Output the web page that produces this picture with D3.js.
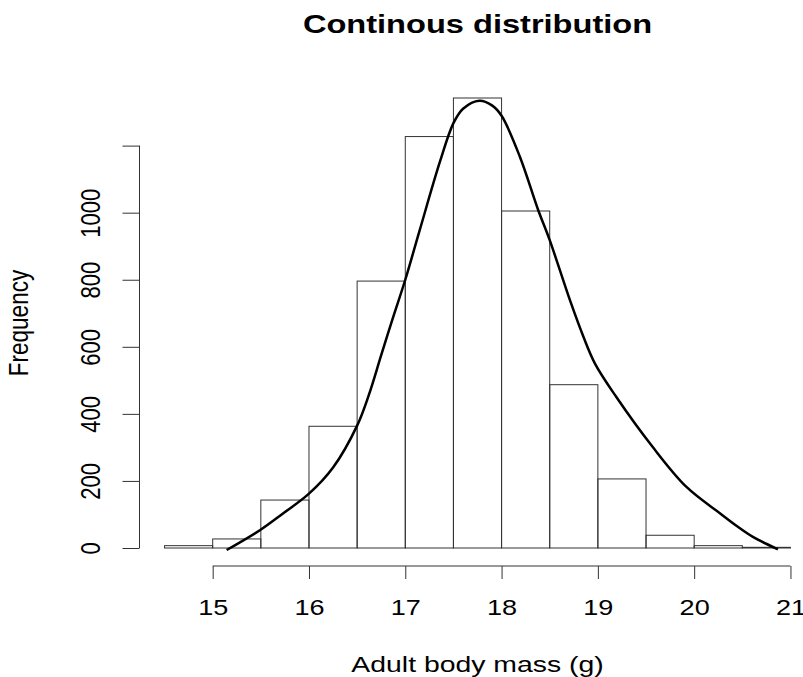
<!DOCTYPE html>
<html>
<head>
<meta charset="utf-8">
<script src="https://cdn.jsdelivr.net/npm/d3@7"></script>
<style>
  html, body { margin: 0; padding: 0; background: #fff; }
  svg { display: block; }
  text { font-family: "Liberation Sans", Arial, Helvetica, sans-serif; fill: #000; }
</style>
</head>
<body>
<svg id="chart" width="803" height="677"></svg>
<script>
// Histogram bins (g) and their counts
const breaks = [14.5, 15, 15.5, 16, 16.5, 17, 17.5, 18, 18.5, 19, 19.5, 20, 20.5, 21];
const counts = [7, 27, 143, 363, 796, 1227, 1342, 1005, 487, 206, 38, 7, 2];

// Smoothed density curve, scaled to frequency
const curveX = [15.145, 15.49, 15.73, 16.0, 16.25, 16.5, 16.62, 16.75, 16.87, 17.0, 17.15, 17.36, 17.5, 17.6, 17.77, 17.9, 18.0, 18.19, 18.38, 18.5, 18.71, 18.85, 18.97, 19.19, 19.57, 19.92, 20.27, 20.45, 20.61, 20.87];
const curveY = [-6, 53, 103, 162, 240, 365, 455, 575, 685, 800, 948, 1152, 1267, 1310, 1334, 1320, 1289, 1167, 1008, 918, 739, 630, 550, 451, 301, 182, 103, 64, 33, -4];

// Axis ticks (the top y tick carries no label)
const xTicks = [15, 16, 17, 18, 19, 20, 21];
const yTicks = [0, 200, 400, 600, 800, 1000, 1200];
const yTickLabels = ["0", "200", "400", "600", "800", "1000", ""];

const titleText = "Continous distribution";
const xLabel = "Adult body mass (g)";
const yLabel = "Frequency";

const svg = d3.select("#chart");
const stretch = 1.23;   // horizontal text stretch of the device
const plot = { left: 139.5, right: 815.5, top: 80, bottom: 566 };

// Plot region extends 4% beyond the data range on each side
const xLo = breaks[0], xHi = breaks[breaks.length - 1];
const yMax = d3.max(counts);
const x = d3.scaleLinear()
  .domain([xLo - 0.04 * (xHi - xLo), xHi + 0.04 * (xHi - xLo)])
  .range([plot.left, plot.right]);
const y = d3.scaleLinear()
  .domain([-0.04 * yMax, yMax * 1.04])
  .range([plot.bottom, plot.top]);

// Bars
const bins = counts.map((c, i) => ({ x0: breaks[i], x1: breaks[i + 1], n: c }));
svg.append("g")
  .selectAll("rect")
  .data(bins)
  .join("rect")
  .attr("x", d => x(d.x0))
  .attr("y", d => y(d.n))
  .attr("width", d => x(d.x1) - x(d.x0))
  .attr("height", d => y(0) - y(d.n))
  .attr("fill", "none")
  .attr("stroke", "#333")
  .attr("stroke-width", 1);

// Density line
const pts = curveX.map((v, i) => [v, curveY[i]]);
svg.append("path")
  .datum(pts)
  .attr("d", d3.line().x(d => x(d[0])).y(d => y(d[1])).curve(d3.curveCatmullRom.alpha(0.5)))
  .attr("fill", "none")
  .attr("stroke", "#000")
  .attr("stroke-width", 2.5)
  .attr("stroke-linejoin", "round");

// X axis
const gx = svg.append("g")
  .attr("transform", `translate(0,${plot.bottom})`)
  .call(d3.axisBottom(x).tickValues(xTicks).tickSize(13).tickSizeOuter(0).tickFormat(d3.format("d")));
gx.select(".domain").remove();
gx.append("line")
  .attr("x1", x(xTicks[0])).attr("x2", x(xTicks[xTicks.length - 1]))
  .attr("y1", 0).attr("y2", 0)
  .attr("stroke", "#333");
gx.selectAll(".tick line").attr("stroke", "#333");
gx.selectAll(".tick text")
  .attr("y", null).attr("dy", null)
  .attr("transform", `translate(0,49) scale(${stretch},1)`)
  .attr("text-anchor", "middle")
  .style("font-size", "22px")
  .style("font-family", "'Liberation Sans', Arial, sans-serif")
  .attr("fill", "#000");

// Y axis
const gy = svg.append("g")
  .attr("transform", `translate(${plot.left},0)`)
  .call(d3.axisLeft(y).tickValues(yTicks).tickSize(17).tickSizeOuter(0)
    .tickFormat((d, i) => yTickLabels[i]));
gy.select(".domain").remove();
gy.append("line")
  .attr("x1", 0).attr("x2", 0)
  .attr("y1", y(yTicks[0])).attr("y2", y(yTicks[yTicks.length - 1]))
  .attr("stroke", "#333");
gy.selectAll(".tick line").attr("stroke", "#333");
gy.selectAll(".tick text")
  .attr("x", null).attr("dy", null)
  .attr("transform", `translate(-39.5,0) scale(${stretch},1) rotate(-90)`)
  .attr("text-anchor", "middle")
  .style("font-size", "22px")
  .style("font-family", "'Liberation Sans', Arial, sans-serif")
  .attr("fill", "#000");

// Title and axis labels
const cx = (plot.left + plot.right) / 2;
const cy = (plot.top + plot.bottom) / 2;
svg.append("text")
  .attr("transform", `translate(${cx},33) scale(${stretch},1)`)
  .attr("text-anchor", "middle")
  .style("font-size", "26.5px")
  .style("font-weight", "bold")
  .text(titleText);
svg.append("text")
  .attr("transform", `translate(${cx},671.5) scale(1.25,1)`)
  .attr("text-anchor", "middle")
  .style("font-size", "22.7px")
  .text(xLabel);
svg.append("text")
  .attr("transform", `translate(27.5,${cy}) scale(${stretch},1) rotate(-90)`)
  .attr("text-anchor", "middle")
  .style("font-size", "22.5px")
  .text(yLabel);
</script>
</body>
</html>
